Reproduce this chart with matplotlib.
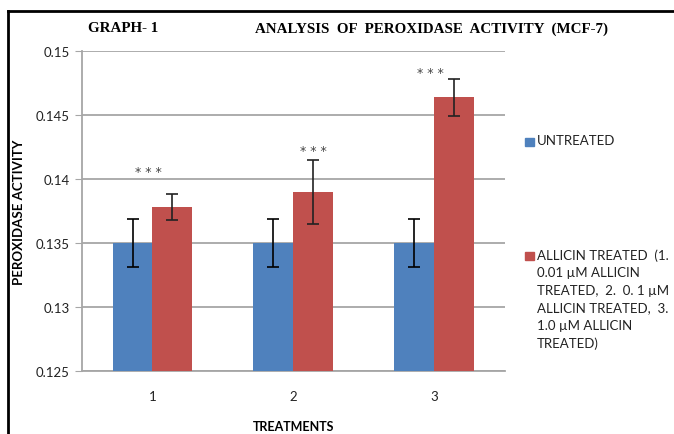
import matplotlib.pyplot as plt
import numpy as np
from matplotlib.patches import Rectangle
from matplotlib.lines import Line2D

treatments = ["1", "2", "3"]
untreated = [0.135, 0.135, 0.135]
untreated_err = [0.0019, 0.0019, 0.0019]
allicin = [0.1378, 0.1390, 0.1464]
allicin_err = [0.0010, 0.0025, 0.00145]
stars = ["* * *", "* * *", "* * *"]
star_y = [0.1406, 0.1422, 0.1483]
legend_labels = ["UNTREATED",
                 "ALLICIN TREATED  (1.\n0.01 \u00b5M ALLICIN\nTREATED,  2.  0. 1 \u00b5M\n"
                 "ALLICIN TREATED,  3.\n1.0 \u00b5M ALLICIN\nTREATED)"]

blue = "#4F81BD"
red = "#C0504D"
grid_c = "#A6A6A6"
body_font = ["Lato", "DejaVu Sans"]

fig = plt.figure(figsize=(6.74, 4.35), dpi=100)
ax = fig.add_axes([0.1217, 0.1448, 0.627, 0.7357])

x = np.arange(len(treatments))
w = 0.283
ax.bar(x - w / 2, untreated, w, color=blue, zorder=3)
ax.bar(x + w / 2, allicin, w, color=red, zorder=3)
ax.errorbar(x - w / 2, untreated, yerr=untreated_err, fmt="none", ecolor="black",
            elinewidth=1.2, capsize=4, capthick=1.2, zorder=4)
ax.errorbar(x + w / 2, allicin, yerr=allicin_err, fmt="none", ecolor="#222222",
            elinewidth=1.2, capsize=4, capthick=1.2, zorder=4)

# significance stars
star_x = [x[0] - 0.03, x[1] + w / 2, x[2] - 0.03]
for sx, sy, s in zip(star_x, star_y, stars):
    ax.text(sx, sy, s, ha="center", va="center", fontsize=9,
            color="#444444", family="DejaVu Sans")

ax.set_ylim(0.125, 0.15)
ax.set_xlim(-0.5, 2.5)
ax.set_yticks([0.125, 0.13, 0.135, 0.14, 0.145, 0.15])
ax.set_yticklabels(["0.125", "0.13", "0.135", "0.14", "0.145", "0.15"])
ax.set_xticks(x)
ax.set_xticklabels(treatments)
ax.grid(axis="y", color=grid_c, linewidth=1.3, zorder=0)
ax.set_axisbelow(True)
for side in ["top", "right"]:
    ax.spines[side].set_visible(False)
for side in ["left", "bottom"]:
    ax.spines[side].set_color(grid_c)
    ax.spines[side].set_linewidth(1.3)
ax.tick_params(axis="y", length=5, color=grid_c, labelsize=9.5, pad=4)
ax.tick_params(axis="x", length=0, labelsize=9.5, pad=14)
for lbl in ax.get_xticklabels() + ax.get_yticklabels():
    lbl.set_family(body_font)
    lbl.set_color("#222222")

ax.set_ylabel("PEROXIDASE ACTIVITY", fontsize=9.5, fontweight="bold", family=body_font)
ax.yaxis.set_label_coords(-0.135, 0.5)
ax.set_xlabel("TREATMENTS", fontsize=9, fontweight="bold", family=body_font, va="center")
ax.xaxis.set_label_coords(0.5, -0.172)

fig.text(88 / 674, 1 - 29 / 435, "GRAPH- 1", fontsize=10.8, fontweight="bold",
         family="Liberation Serif", va="center")
fig.text(255 / 674, 1 - 29 / 435, "ANALYSIS  OF  PEROXIDASE  ACTIVITY  (MCF-7)",
         fontsize=10.8, fontweight="bold", family="Liberation Serif", va="center")

# legend drawn by hand to match the wide spacing
leg_y = [143, 257]
for lab, col, yy in zip(legend_labels, [blue, red], leg_y):
    fig.patches.append(Rectangle((525 / 674, 1 - (yy + 4) / 435), 9 / 674, 8 / 435,
                                 transform=fig.transFigure, color=col))
    fig.text(537 / 674, 1 - (yy - 8) / 435, lab, fontsize=9.5, family=body_font,
             va="top", ha="left", linespacing=1.55, color="#222222")

# outer frame (top and left visible)
fig.add_artist(Line2D([8 / 674, 1], [1 - 12 / 435, 1 - 12 / 435],
                      transform=fig.transFigure, color="black", linewidth=2))
fig.add_artist(Line2D([8 / 674, 8 / 674], [0, 1 - 12 / 435],
                      transform=fig.transFigure, color="black", linewidth=2))

fig.savefig("out.png", dpi=100)
